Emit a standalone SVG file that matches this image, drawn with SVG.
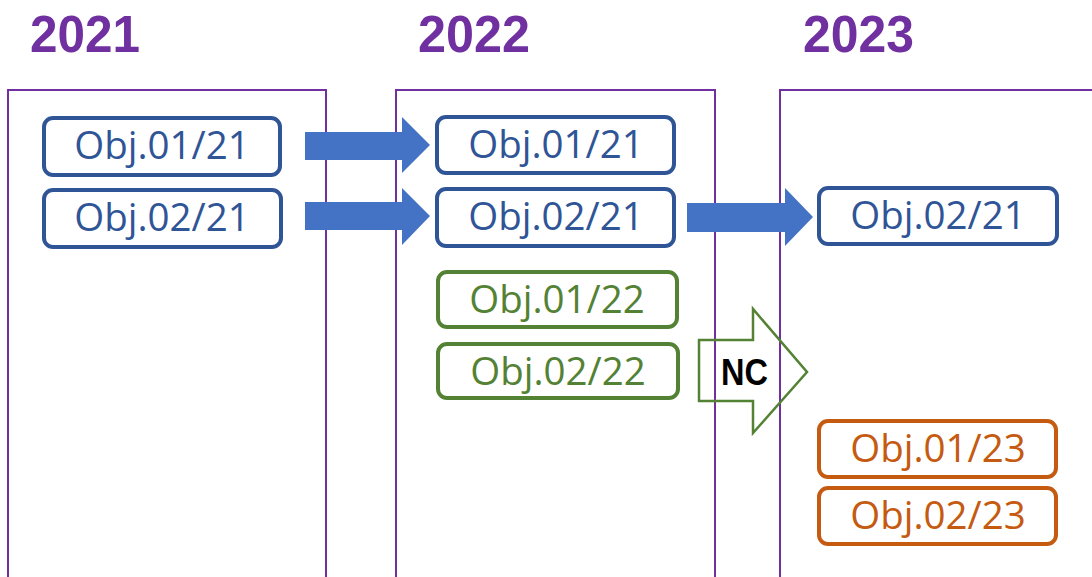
<svg xmlns="http://www.w3.org/2000/svg" width="1092" height="577" viewBox="0 0 1092 577">
  <style>
    .year { font-family: "Liberation Sans", "Open Sans", sans-serif; font-weight: bold; font-size: 51px; fill: #7030A0; }
    .col { fill: none; stroke: #7030A0; stroke-width: 2; }
    .box { fill: #FFFFFF; stroke-width: 4; }
    .lbl { font-family: "Open Sans", "Liberation Sans", sans-serif; font-size: 38.5px; text-anchor: middle; }
    .blue .box { stroke: #2F5597; }
    .blue .lbl { fill: #2F5597; }
    .green .box { stroke: #548235; }
    .green .lbl { fill: #548235; }
    .orange .box { stroke: #C55A11; }
    .orange .lbl { fill: #C55A11; }
    .flow { fill: #4472C4; stroke: none; }
    .nc { fill: none; stroke: #548235; stroke-width: 2.5; stroke-linejoin: miter; }
    .nctext { font-family: "Liberation Sans", "Open Sans", sans-serif; font-weight: bold; font-size: 37px; fill: #000000; }
  </style>

  <rect width="1092" height="577" fill="#FFFFFF"/>

  <!-- year columns -->
  <g id="col-2021">
    <text class="year" x="30" y="52" textLength="110" lengthAdjust="spacingAndGlyphs">2021</text>
    <rect class="col" x="8" y="90" width="318" height="500"/>
  </g>
  <g id="col-2022">
    <text class="year" x="418" y="52" textLength="112" lengthAdjust="spacingAndGlyphs">2022</text>
    <rect class="col" x="396" y="90" width="319" height="500"/>
  </g>
  <g id="col-2023">
    <text class="year" x="803" y="52" textLength="111" lengthAdjust="spacingAndGlyphs">2023</text>
    <rect class="col" x="780" y="90" width="330" height="500"/>
  </g>

  <!-- objectives -->
  <g id="obj01-21-a" class="blue">
    <rect class="box" x="44" y="118" width="236" height="57" rx="9"/>
    <text class="lbl" x="162" y="159">Obj.01/21</text>
  </g>
  <g id="obj02-21-a" class="blue">
    <rect class="box" x="44" y="190" width="237" height="57" rx="9"/>
    <text class="lbl" x="162" y="231">Obj.02/21</text>
  </g>
  <g id="obj01-21-b" class="blue">
    <rect class="box" x="437" y="117" width="237" height="56" rx="9"/>
    <text class="lbl" x="556" y="158">Obj.01/21</text>
  </g>
  <g id="obj02-21-b" class="blue">
    <rect class="box" x="437" y="189" width="237" height="57" rx="9"/>
    <text class="lbl" x="556" y="230">Obj.02/21</text>
  </g>
  <g id="obj02-21-c" class="blue">
    <rect class="box" x="819" y="188" width="238" height="56" rx="9"/>
    <text class="lbl" x="938" y="229">Obj.02/21</text>
  </g>
  <g id="obj01-22" class="green">
    <rect class="box" x="438" y="272" width="239" height="55" rx="9"/>
    <text class="lbl" x="557" y="313">Obj.01/22</text>
  </g>
  <g id="obj02-22" class="green">
    <rect class="box" x="438" y="344" width="240" height="54" rx="9"/>
    <text class="lbl" x="558" y="385">Obj.02/22</text>
  </g>
  <g id="obj01-23" class="orange">
    <rect class="box" x="819" y="421" width="237" height="56" rx="9"/>
    <text class="lbl" x="938" y="462">Obj.01/23</text>
  </g>
  <g id="obj02-23" class="orange">
    <rect class="box" x="819" y="488" width="237" height="56" rx="9"/>
    <text class="lbl" x="938" y="529">Obj.02/23</text>
  </g>

  <!-- connectors -->
  <g id="connectors">
    <polygon class="flow" points="305,132 402,132 402,117 430,145 402,173 402,160 305,160"/>
    <polygon class="flow" points="305,202 402,202 402,188 430,216 402,245 402,230 305,230"/>
    <polygon class="flow" points="687,203 785,203 785,188 813,217 785,246 785,232 687,232"/>
    <polygon class="nc" points="699,340 753,340 753,309 807,372 753,433 753,401 699,401"/>
    <text class="nctext" x="721" y="385" textLength="47" lengthAdjust="spacingAndGlyphs">NC</text>
  </g>
</svg>
